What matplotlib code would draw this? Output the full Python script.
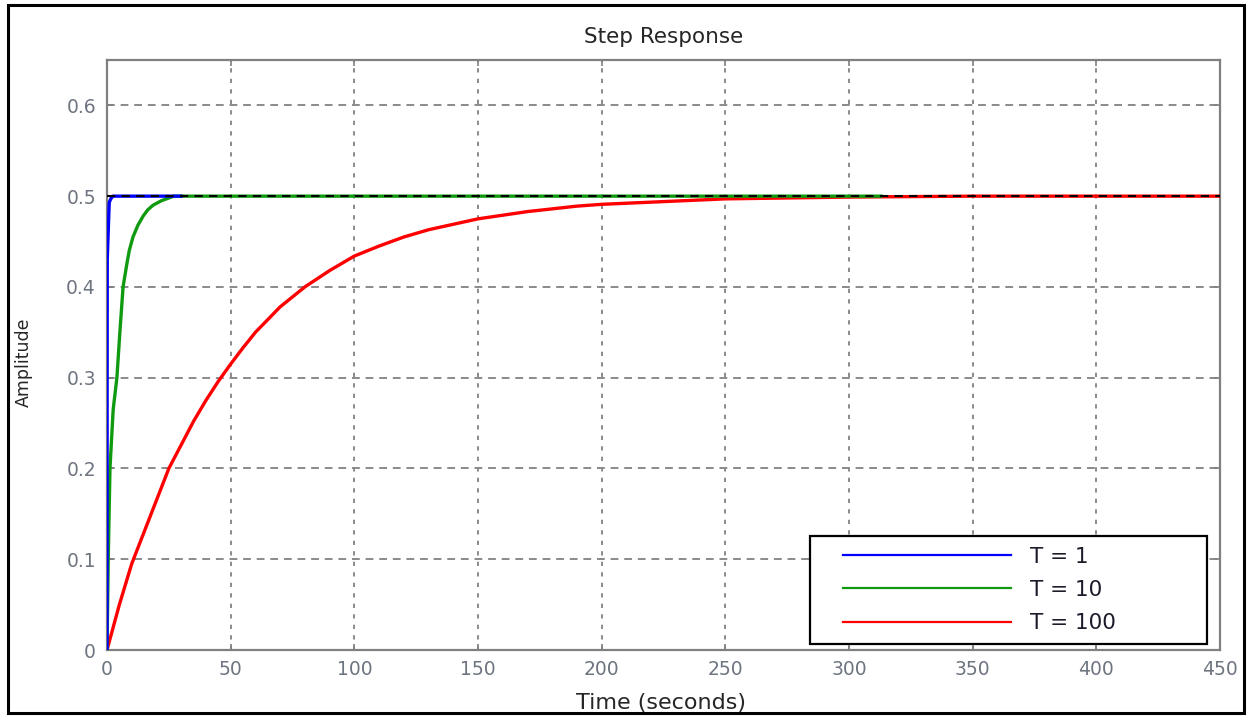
import matplotlib
matplotlib.use("Agg")
import matplotlib.pyplot as plt
from matplotlib.lines import Line2D
from matplotlib.legend_handler import HandlerLine2D
from matplotlib.patches import Rectangle

# ---- data ----
labels = ["T = 1", "T = 10", "T = 100"]

t_T1 = [0, 0.05, 0.1, 0.9, 1.5, 2.4, 30]
y_T1 = [0, 0.30, 0.43, 0.493, 0.497, 0.5, 0.5]

t_T10 = [0, 0.5, 1.2, 2.5, 4.0, 5.2, 6.5, 8.0, 9.0, 10.5, 12.5, 14.6, 16.5,
         18.6, 22, 25, 27, 313]
y_T10 = [0, 0.10, 0.20, 0.265, 0.30, 0.35, 0.40, 0.425, 0.44, 0.455, 0.468,
         0.478, 0.485, 0.49, 0.495, 0.498, 0.5, 0.5]

t_T100 = [0, 5, 10, 15, 20, 25, 30, 35, 40, 45, 50, 55, 60, 65, 70, 75, 80,
          85, 90, 95, 100, 110, 120, 130, 140, 150, 160, 170, 180, 190, 200,
          225, 250, 275, 300, 350, 400, 450]
y_T100 = [0, 0.05, 0.095, 0.13, 0.165, 0.20, 0.226, 0.252, 0.275, 0.296,
          0.315, 0.333, 0.35, 0.364, 0.378, 0.389, 0.40, 0.409, 0.418, 0.426,
          0.434, 0.445, 0.455, 0.463, 0.469, 0.475, 0.479, 0.483, 0.486,
          0.489, 0.491, 0.494, 0.497, 0.498, 0.499, 0.5, 0.5, 0.5]

steady_value = 0.5
x_ticks = [0, 50, 100, 150, 200, 250, 300, 350, 400, 450]
y_ticks = [0, 0.1, 0.2, 0.3, 0.4, 0.5, 0.6]
y_ticklabels = ["0", "0.1", "0.2", "0.3", "0.4", "0.5", "0.6"]

# ---- figure ----
plt.rcParams['font.family'] = ['DejaVu Sans']
W, H = 1251, 717
fig = plt.figure(figsize=(W / 100, H / 100), dpi=100)
L, R, T, B = 107, 1220, 60, 650
ax = fig.add_axes([L / W, 1 - B / H, (R - L) / W, (B - T) / H])

grid_c = "#8a8a8a"
ax.set_xlim(0, 450)
ax.set_ylim(0, 0.65)
ax.set_xticks(x_ticks)
ax.set_yticks(y_ticks)
ax.set_yticklabels(y_ticklabels)

for x in x_ticks[1:-1]:
    ax.axvline(x, color=grid_c, lw=1.4, ls=(0, (2.2, 3.2)), zorder=1)
for y in y_ticks[1:]:
    ax.axhline(y, color=grid_c, lw=1.4, ls=(0, (4, 3)), zorder=1)

l3, = ax.plot(t_T100, y_T100, color="#ff0000", lw=2.4, zorder=3, label=labels[2])
l2, = ax.plot(t_T10, y_T10, color="#109a10", lw=2.4, zorder=4, label=labels[1])
l1, = ax.plot(t_T1, y_T1, color="#0000ff", lw=2.4, zorder=5, label=labels[0])
ax.axhline(steady_value, color="black", lw=1.5, ls=(0, (4, 3)), zorder=6)

for s in ax.spines.values():
    s.set_color("#808080")
    s.set_linewidth(1.6)
ax.tick_params(direction="in", length=4, width=1.2, color="#808080",
               top=True, right=True, labelsize=13.5, labelcolor="#6e7580")
ax.tick_params(axis="x", pad=7)
ax.tick_params(axis="y", pad=8)

ax.set_title("Step Response", fontsize=15.5, color="#262626", pad=12)
fig.text(24 / W, 1 - 362 / H, "Amplitude", rotation=90, ha="center", va="center",
         fontsize=12.5, color="#262626")
fig.text(661 / W, 1 - 709 / H, "Time (seconds)", ha="center", va="baseline",
         fontsize=16, color="#262626")

# legend
bx0, by0, bx1, by1 = 810, 644, 1207, 533
leg = ax.legend(handles=[l1, l2, l3], loc="lower left",
                bbox_to_anchor=((bx0 - L) / (R - L), (B - by0) / (B - T),
                                (bx1 - bx0) / (R - L), (by0 - by1) / (B - T)),
                mode="expand", fontsize=15.5, frameon=True, fancybox=False,
                framealpha=1, edgecolor="black", borderpad=0.5,
                handlelength=9.9, handletextpad=-0.2, labelspacing=0.62,
                borderaxespad=0,
                handler_map={Line2D: HandlerLine2D(marker_pad=1.05, numpoints=2)})
leg.get_frame().set_linewidth(1.6)
for h in leg.legend_handles:
    h.set_linewidth(1.6)
for txt in leg.get_texts():
    txt.set_color("#1e1a2a")
leg.set_zorder(10)

# outer frame
fig.patches.append(Rectangle((0, 0), 1, 1 - 713 / H, transform=fig.transFigure,
                             facecolor="white", edgecolor="none", zorder=20))
fig.patches.append(Rectangle((8 / W, 1 - 713 / H), (1244 - 8) / W, (713 - 5) / H,
                             transform=fig.transFigure, facecolor="none",
                             edgecolor="black", lw=2.2, zorder=21))

fig.savefig("out.png", dpi=100)
